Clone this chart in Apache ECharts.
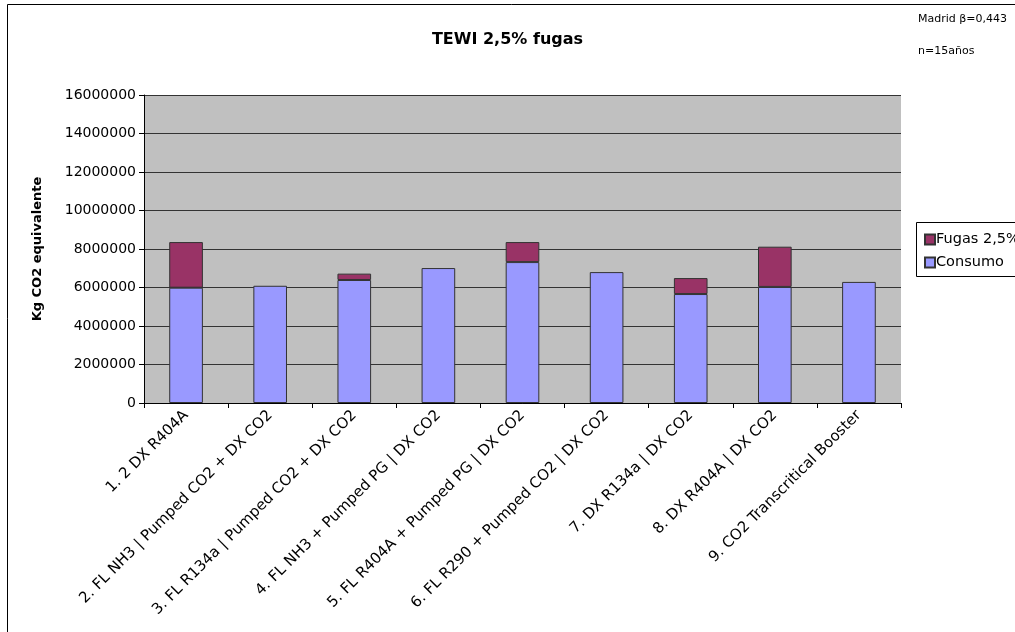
<!DOCTYPE html>
<html>
<head>
<meta charset="utf-8">
<script src="https://cdn.jsdelivr.net/npm/echarts@6/dist/echarts.min.js"></script>
<style>
html, body { margin: 0; padding: 0; background: #fff; }
#main { width: 1015px; height: 632px; }
</style>
</head>
<body>
<div id="main"></div>
<script>
var categories = ['1. 2 DX R404A', '2. FL NH3 | Pumped CO2 + DX CO2', '3. FL R134a | Pumped CO2 + DX CO2',
	'4. FL NH3 + Pumped PG | DX CO2', '5. FL R404A + Pumped PG | DX CO2', '6. FL R290 + Pumped CO2 | DX CO2',
	'7. DX R134a | DX CO2', '8. DX R404A | DX CO2', '9. CO2 Transcritical Booster'];
var consumo = [5990000, 6090000, 6390000, 7010000, 7320000, 6800000, 5660000, 6030000, 6290000];
var fugas = [2370000, 0, 330000, 0, 1040000, 0, 830000, 2090000, 0];
var yTicks = [0, 2000000, 4000000, 6000000, 8000000, 10000000, 12000000, 14000000, 16000000];

var font = 'DejaVu Sans';
var myChart = echarts.init(document.getElementById('main'));

myChart.setOption({
	backgroundColor: '#fff',
	animation: false,
	title: {
		text: 'TEWI 2,5% fugas',
		left: 'center',
		top: 27,
		textStyle: { fontFamily: font, fontSize: 16, fontWeight: 'bold', color: '#000' }
	},
	graphic: [
		{ type: 'rect', shape: { x: 7.5, y: 4.5, width: 1100, height: 700 }, style: { fill: null, stroke: '#000', lineWidth: 1 }, silent: true },
		{ type: 'text', left: 918, top: 14, style: { text: 'Madrid β=0,443', fontFamily: font, fontSize: 11, fill: '#000' } },
		{ type: 'text', left: 918, top: 46, style: { text: 'n=15años', fontFamily: font, fontSize: 11, fill: '#000' } },
		{ type: 'rect', shape: { x: 916.5, y: 222.5, width: 120, height: 54 }, style: { fill: '#fff', stroke: '#000', lineWidth: 1 }, silent: true, z: 0 }
	],
	legend: {
		data: ['Fugas 2,5%', 'Consumo'],
		orient: 'vertical',
		left: 919,
		top: 227,
		itemWidth: 10,
		itemHeight: 10,
		itemGap: 8,
		icon: 'rect',
		textStyle: { fontFamily: font, fontSize: 14.5, color: '#000', padding: [0, 0, 0, -4] },
		z: 10
	},
	grid: { left: 144, right: 114, top: 95, bottom: 229 },
	xAxis: {
		type: 'category',
		data: categories,
		axisLine: { lineStyle: { color: '#000', width: 1 } },
		axisTick: { show: true, alignWithLabel: false, length: 5, lineStyle: { color: '#000' } },
		axisLabel: { rotate: 45, interval: 0, margin: 10, fontFamily: font, fontSize: 15, color: '#000' }
	},
	yAxis: {
		type: 'value',
		min: yTicks[0],
		max: yTicks[yTicks.length - 1],
		interval: yTicks[1] - yTicks[0],
		name: 'Kg CO2 equivalente',
		nameLocation: 'middle',
		nameGap: 100,
		nameTextStyle: { fontFamily: font, fontSize: 13, fontWeight: 'bold', color: '#000' },
		axisLine: { show: true, lineStyle: { color: '#000' } },
		axisTick: { show: true, length: 5, lineStyle: { color: '#000' } },
		axisLabel: { fontFamily: font, fontSize: 14, color: '#000', margin: 8, formatter: function (v) { return String(v); } },
		splitLine: { lineStyle: { color: '#333', width: 1.2 } },
		splitArea: { show: true, areaStyle: { color: ['#C0C0C0', '#C0C0C0'] } }
	},
	series: [
		{
			name: 'Consumo',
			type: 'bar',
			stack: 'total',
			barWidth: '40%',
			data: consumo,
			itemStyle: { color: '#9999FF', borderColor: '#333', borderWidth: 1 }
		},
		{
			name: 'Fugas 2,5%',
			type: 'bar',
			stack: 'total',
			barWidth: '40%',
			data: fugas.map(function (v) { return v === 0 ? '-' : v; }),
			itemStyle: { color: '#993366', borderColor: '#333', borderWidth: 1 }
		}
	]
});
</script>
</body>
</html>
